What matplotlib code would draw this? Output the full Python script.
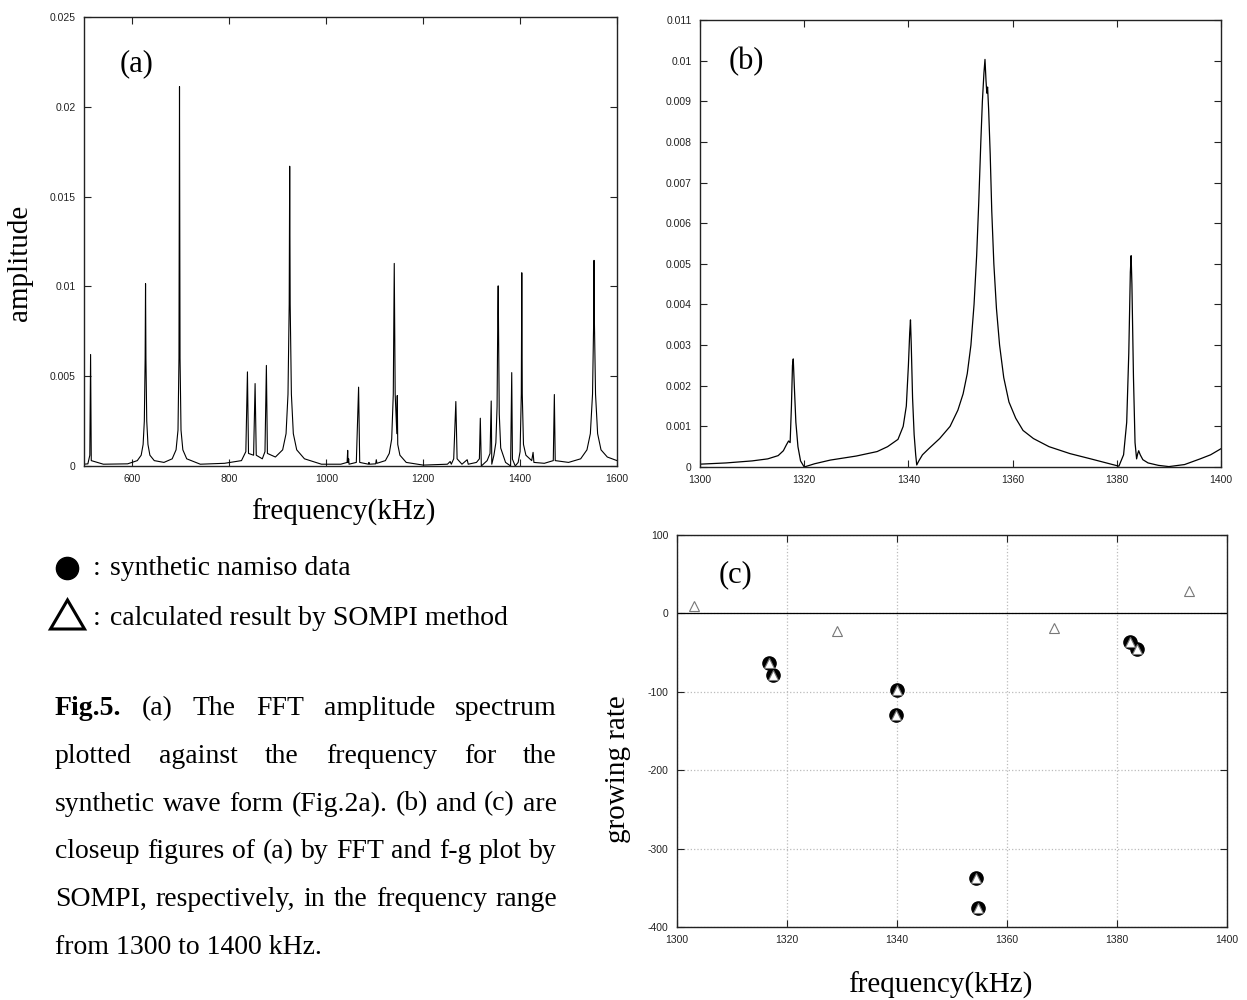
import matplotlib
matplotlib.use('Agg')
import matplotlib.pyplot as plt
from matplotlib.patches import Polygon

plt.rcParams['axes.unicode_minus'] = False

W, H = 1247, 1000
SERIF = 'Liberation Serif'
SANS = 'Liberation Sans'

# (a) FFT amplitude spectrum, 500 - 1600 kHz
freq_a = [500, 508, 512, 513.6, 515, 540, 590,
          610, 618, 622, 624.5, 626.2, 627.0, 627.8, 629.5, 632, 636, 645,
          665, 682, 690, 694, 696, 697.1, 698.2, 700.2, 704, 712, 740,
          790, 825, 834, 837.3, 839.5, 850, 853.1, 855.5, 868, 873.5, 876.4, 878.5,
          895, 910, 917, 921, 923.5, 924.5, 925.5, 928, 932, 939, 955, 990,
          1030, 1043, 1044.2, 1045, 1046.2, 1047, 1062, 1066.7, 1069,
          1087, 1088.1, 1089, 1102, 1103.2, 1104.5,
          1122, 1130, 1135, 1138.3, 1140.3, 1142.2, 1145.6, 1146.5, 1147.5, 1152, 1165,
          1200, 1250, 1255.7, 1258, 1263, 1267.4, 1270, 1280, 1290.8, 1293,
          1310, 1316, 1317.9, 1320, 1332, 1338, 1340.4, 1341.6,
          1346, 1350, 1352.5, 1354, 1354.8, 1355.6, 1357, 1360, 1370,
          1380.4, 1382.75, 1384.2, 1390, 1396, 1400, 1402.5, 1403.5, 1404.5, 1407, 1412,
          1424, 1426.8, 1428.5, 1450, 1468.5, 1470.7, 1472.5, 1500,
          1525, 1538, 1545, 1549.5, 1551.8, 1552.6, 1553.4, 1555.7, 1560, 1567, 1580, 1600]
amp_a = [0.0001, 0.00012, 0.0006, 0.00621, 0.0003, 0.0001, 0.00012,
         0.0003, 0.0006, 0.0012, 0.0025, 0.006, 0.01015, 0.006, 0.0025, 0.0012, 0.0006, 0.0003,
         0.0002, 0.0004, 0.0009, 0.002, 0.006, 0.02112, 0.006, 0.002, 0.0009, 0.0004, 0.0001,
         0.00015, 0.0003, 0.0008, 0.00524, 0.0007, 0.0006, 0.00459, 0.0006, 0.0004, 0.0008, 0.0056, 0.0007,
         0.0005, 0.0009, 0.0018, 0.004, 0.009, 0.01669, 0.009, 0.004, 0.0018, 0.0009, 0.0004, 0.0001,
         0.0001, 0.0002, 0.00087, 0.0002, 0.0004, 0.0001, 0.0002, 0.00439, 0.0002,
         0.0001, 0.0002, 0.0001, 0.00012, 0.00035, 0.00015,
         0.0003, 0.0007, 0.0015, 0.004, 0.01128, 0.004, 0.0018, 0.00392, 0.0012, 0.0006, 0.0002,
         0.00005, 0.0001, 0.00025, 0.0001, 0.0004, 0.00359, 0.0004, 0.0001, 0.00035, 0.0001,
         0.0002, 0.0004, 0.00266, 0.0, 0.0003, 0.0007, 0.00362, 0.0001,
         0.0006, 0.0013, 0.0033, 0.0085, 0.01003, 0.0074, 0.0029, 0.001, 0.0002,
         0.0, 0.0052, 0.00038, 0.0, 0.0002, 0.0008, 0.004, 0.01076, 0.004, 0.0012, 0.0006,
         0.0003, 0.00076, 0.0002, 0.00015, 0.0003, 0.00398, 0.0003, 0.0002,
         0.0004, 0.0009, 0.0018, 0.004, 0.008, 0.01145, 0.008, 0.004, 0.0018, 0.0009, 0.0005, 0.0003]

# (b) closeup 1300 - 1400 kHz
freq_b = [1300, 1305, 1310, 1313, 1315, 1316.0, 1316.6, 1317.0, 1317.3, 1317.55, 1317.75,
          1317.9, 1318.1, 1318.4, 1318.8, 1319.3, 1320.0,
          1322, 1325, 1330, 1334, 1336, 1338, 1339, 1339.6, 1340.0, 1340.25, 1340.4,
          1340.55, 1340.8, 1341.1, 1341.4, 1341.6, 1342.0, 1342.7, 1343.9,
          1346, 1348, 1349.5, 1350.5, 1351.3, 1352.0, 1352.6, 1353.1, 1353.5, 1353.9,
          1354.2, 1354.5, 1354.7, 1354.9, 1355.05, 1355.2, 1355.4, 1355.7, 1356.0, 1356.4,
          1356.9, 1357.5, 1358.3, 1359.3, 1360.6, 1362, 1364, 1367, 1371, 1375, 1378,
          1380.4, 1381.3, 1381.9, 1382.3, 1382.6, 1382.75, 1382.9, 1383.2, 1383.5, 1383.8,
          1384.0, 1384.2, 1384.5, 1385, 1386, 1388, 1390, 1393, 1396, 1398, 1400]
amp_b = [0.00007, 0.0001, 0.00015, 0.0002, 0.00028, 0.0004, 0.00055, 0.00064, 0.0006, 0.0015, 0.0025,
         0.00266, 0.002, 0.0011, 0.0005, 0.00015, 0.0,
         0.00008, 0.00017, 0.00027, 0.00038, 0.0005, 0.00068, 0.001, 0.0015, 0.0025, 0.0033, 0.00362,
         0.003, 0.0017, 0.0008, 0.0003, 0.00005, 0.00015, 0.0003, 0.00045,
         0.0007, 0.001, 0.0014, 0.0018, 0.0023, 0.003, 0.004, 0.0052, 0.0065, 0.008,
         0.009, 0.0097, 0.01003, 0.0095, 0.0092, 0.00935, 0.0088, 0.0077, 0.0063, 0.005,
         0.0039, 0.003, 0.0022, 0.0016, 0.0012, 0.0009, 0.0007, 0.0005, 0.00033, 0.0002, 0.0001,
         0.00002, 0.0003, 0.0011, 0.0028, 0.0048, 0.0052, 0.0045, 0.0022, 0.0006, 0.0002,
         0.00032, 0.0004, 0.0003, 0.00018, 0.0001, 0.00004, 0.00001, 0.00006, 0.0002, 0.0003, 0.00045]

# (c) f-g plot
namiso_f = [1316.7, 1317.4, 1340.0, 1339.9, 1354.3, 1354.8, 1382.3, 1383.6]
namiso_g = [-63, -78, -98, -130, -338, -376, -36, -45]
sompi_f = [1303.1, 1316.7, 1317.4, 1329.0, 1340.0, 1339.9, 1354.3, 1354.8,
           1368.6, 1382.3, 1383.6, 1393.0]
sompi_g = [9, -63, -78, -22, -98, -130, -338, -376, -19, -36, -45, 29]

xticks_a = [600, 800, 1000, 1200, 1400, 1600]
yticks_a = [0, 0.005, 0.01, 0.015, 0.02, 0.025]
ylabels_a = ['0', '0.005', '0.01', '0.015', '0.02', '0.025']
xticks_b = [1300, 1320, 1340, 1360, 1380, 1400]
yticks_b = [0, 0.001, 0.002, 0.003, 0.004, 0.005, 0.006, 0.007, 0.008, 0.009, 0.01, 0.011]
ylabels_b = ['0', '0.001', '0.002', '0.003', '0.004', '0.005', '0.006',
             '0.007', '0.008', '0.009', '0.01', '0.011']
yticks_c = [-400, -300, -200, -100, 0, 100]

caption = [
    ['Fig.5.', '(a)', 'The', 'FFT', 'amplitude', 'spectrum'],
    ['plotted', 'against', 'the', 'frequency', 'for', 'the'],
    ['synthetic', 'wave', 'form', '(Fig.2a).', '(b)', 'and', '(c)', 'are'],
    ['closeup', 'figures', 'of', '(a)', 'by', 'FFT', 'and', 'f-g', 'plot', 'by'],
    ['SOMPI,', 'respectively,', 'in', 'the', 'frequency', 'range'],
]
caption_last = 'from 1300 to 1400 kHz.'


fig = plt.figure(figsize=(W / 100, H / 100), dpi=100)


def px_axes(l, t, r, b):
    return fig.add_axes([l / W, 1 - b / H, (r - l) / W, (b - t) / H])


def style(ax):
    for s in ax.spines.values():
        s.set_linewidth(1.0)
        s.set_color('#222222')
    ax.tick_params(direction='in', top=True, right=True, length=5, width=0.8,
                   color='#222222', labelsize=7.5, labelcolor='#222222', pad=6)
    for lab in ax.get_xticklabels() + ax.get_yticklabels():
        lab.set_family(SANS)


# panel (a)
ax_a = px_axes(84, 17, 617, 466)
ax_a.plot(freq_a, amp_a, color='black', lw=0.8)
ax_a.set_xlim(500, 1600)
ax_a.set_ylim(0, 0.025)
ax_a.set_xticks(xticks_a)
ax_a.set_yticks(yticks_a)
ax_a.set_yticklabels(ylabels_a)
style(ax_a)

# panel (b)
ax_b = px_axes(700, 20, 1221, 467)
ax_b.plot(freq_b, amp_b, color='black', lw=0.9)
ax_b.set_xlim(1300, 1400)
ax_b.set_ylim(0, 0.011)
ax_b.set_xticks(xticks_b)
ax_b.set_yticks(yticks_b)
ax_b.set_yticklabels(ylabels_b)
style(ax_b)

# panel (c)
ax_c = px_axes(677, 535, 1227, 927)
ax_c.grid(True, color='#bbbbbb', linestyle=':', linewidth=0.9)
ax_c.axhline(0, color='black', lw=0.9)
ax_c.plot(namiso_f, namiso_g, 'o', color='black', ms=9.5, zorder=3)
ax_c.plot(sompi_f, sompi_g, '^', mfc='white', mec='#777777', mew=0.8, ms=6.5, zorder=4)
ax_c.set_xlim(1300, 1400)
ax_c.set_ylim(-400, 100)
ax_c.set_xticks(xticks_b)
ax_c.set_yticks(yticks_c)
style(ax_c)

# text layer in pixel coordinates, on top of the panels
ax_t = fig.add_axes([0, 0, 1, 1], zorder=5)
ax_t.patch.set_visible(False)
ax_t.set_xlim(0, W)
ax_t.set_ylim(H, 0)
ax_t.axis('off')

lab_kw = dict(family=SERIF, fontsize=21, ha='center', va='center')
ax_t.text(20, 263, 'amplitude', rotation=90, **lab_kw)
ax_t.text(343, 512, 'frequency(kHz)', **lab_kw)
ax_t.text(618, 769, 'growing rate', rotation=90, **lab_kw)
ax_t.text(940, 985, 'frequency(kHz)', **lab_kw)

pan_kw = dict(family=SERIF, fontsize=22, ha='center', va='center')
ax_t.text(137, 64, '(a)', **pan_kw)
ax_t.text(746, 62, '(b)', **pan_kw)
ax_t.text(735, 575, '(c)', **pan_kw)

# legend symbols
ax_t.plot([67], [568], 'o', color='black', ms=16)
ax_t.add_patch(Polygon([(50.5, 629), (84.5, 629), (67.5, 600)], closed=True,
                       facecolor='white', edgecolor='black', lw=2.2))
txt_kw = dict(family=SERIF, fontsize=20, va='baseline')
ax_t.text(93, 575, ':', **txt_kw)
ax_t.text(110, 575, 'synthetic namiso data', **txt_kw)
ax_t.text(93, 625, ':', **txt_kw)
ax_t.text(110, 625, 'calculated result by SOMPI method', **txt_kw)

# justified caption
renderer = fig.canvas.get_renderer()
x0, x1 = 55, 557
for i, words in enumerate(caption):
    yb = 715 + 47.8 * i
    texts = []
    for w in words:
        bold = (w == 'Fig.5.')
        texts.append(ax_t.text(0, yb, w, weight='bold' if bold else 'normal', **txt_kw))
    widths = [t.get_window_extent(renderer).width for t in texts]
    gap = (x1 - x0 - sum(widths)) / (len(words) - 1)
    x = x0
    for t, wd in zip(texts, widths):
        t.set_x(x)
        x += wd + gap
ax_t.text(x0, 715 + 47.8 * 5, caption_last, **txt_kw)

fig.savefig('out.png', dpi=100)
